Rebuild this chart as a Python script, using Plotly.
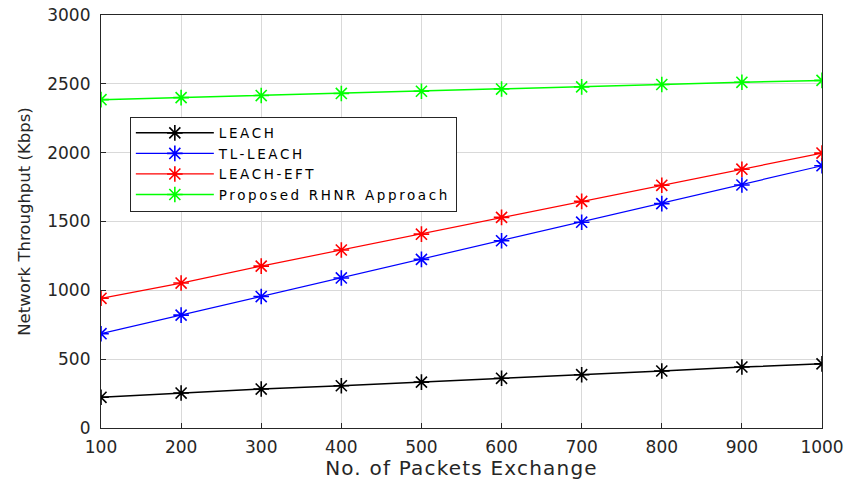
import plotly.graph_objects as go

packets = [100, 200, 300, 400, 500, 600, 700, 800, 900, 1000]
leach = [223, 254, 283, 307, 333, 361, 387, 414, 443, 466]
tl_leach = [685, 820, 955, 1090, 1225, 1360, 1495, 1630, 1765, 1905]
leach_eft = [942, 1053, 1176, 1293, 1408, 1530, 1646, 1763, 1880, 1997]
proposed = [2385, 2400, 2415, 2430, 2446, 2462, 2478, 2495, 2511, 2525]

series_names = ["LEACH", "TL-LEACH", "LEACH-EFT", "Proposed RHNR Approach"]
series_values = [leach, tl_leach, leach_eft, proposed]
series_colors = ["#000000", "#0000ff", "#ff0000", "#00ff00"]
series_widths = [1.5, 1.2, 1.2, 1.5]

FONT = "DejaVu Sans, Liberation Sans, Arial"


def spaced(text, px):
    return f'<span style="letter-spacing:{px}px">{text}</span>'


fig = go.Figure()
for name, vals, col, w in zip(series_names, series_values, series_colors, series_widths):
    fig.add_trace(go.Scatter(
        x=packets, y=vals, name=spaced(name, 2.6), mode="lines+markers",
        line=dict(color=col, width=w),
        marker=dict(symbol="asterisk-open", size=13, color=col,
                    line=dict(color=col, width=1.6)),
    ))

axis_common = dict(
    showline=True, linecolor="#262626", linewidth=1.2, mirror=True,
    showgrid=True, gridcolor="#d9d9d9", gridwidth=1,
    ticks="inside", ticklen=5, tickcolor="#262626",
    zeroline=False, automargin=False,
    tickfont=dict(family=FONT, size=17, color="#262626"),
)

fig.update_layout(
    width=847, height=480,
    margin=dict(l=101, r=25, t=15, b=52),
    paper_bgcolor="white", plot_bgcolor="white",
    font=dict(family=FONT, color="#262626"),
    xaxis=dict(range=[100, 1000], tickvals=packets, ticklabelstandoff=3, **axis_common,
               title=dict(text=spaced("No. of Packets Exchange", 1.2),
                          font=dict(family=FONT, size=20), standoff=3)),
    yaxis=dict(range=[0, 3000], tickvals=[0, 500, 1000, 1500, 2000, 2500, 3000],
               ticklabelstandoff=6, **axis_common,
               title=dict(text="Network Throughput (Kbps)", font=dict(family=FONT, size=16.5), standoff=12)),
    legend=dict(
        x=0.04, y=0.754, xanchor="left", yanchor="top",
        bgcolor="white", bordercolor="#262626", borderwidth=1,
        font=dict(family=FONT, size=13.5, color="#000000"),
        tracegroupgap=0, itemwidth=78,
    ),
    showlegend=True,
)

fig.write_html("out.html")
